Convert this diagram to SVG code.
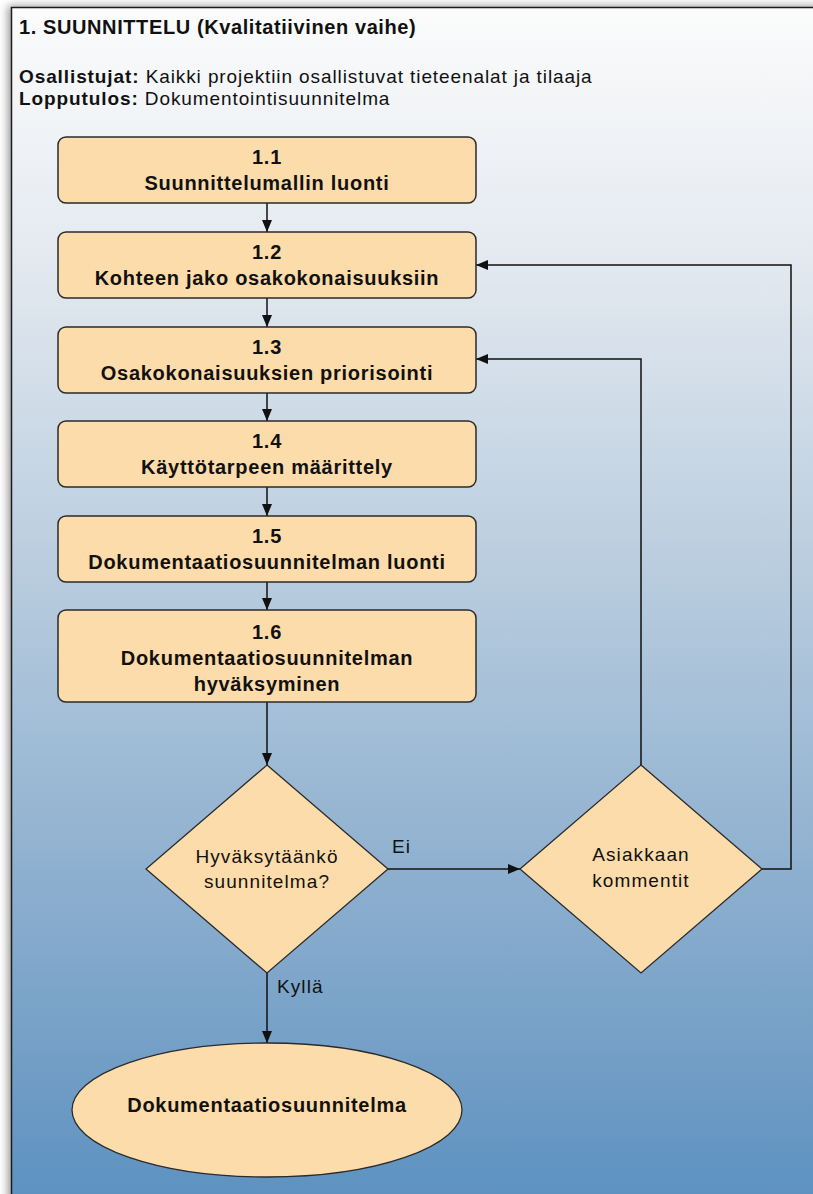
<svg xmlns="http://www.w3.org/2000/svg" width="813" height="1194" viewBox="0 0 813 1194">
  <defs>
    <linearGradient id="bg" x1="0" y1="0" x2="0" y2="1194" gradientUnits="userSpaceOnUse">
      <stop offset="0" stop-color="#fcfcfc"/>
      <stop offset="0.2" stop-color="#e6ebf1"/>
      <stop offset="0.5" stop-color="#b5cadd"/>
      <stop offset="0.8" stop-color="#82a8cb"/>
      <stop offset="1" stop-color="#5e92c0"/>
    </linearGradient>
    <filter id="shadow" x="-5%" y="-5%" width="110%" height="110%">
      <feGaussianBlur in="SourceAlpha" stdDeviation="4"/>
      <feOffset dx="-3" dy="-1" result="b"/>
      <feComponentTransfer><feFuncA type="linear" slope="0.4"/></feComponentTransfer>
      <feMerge><feMergeNode/><feMergeNode in="SourceGraphic"/></feMerge>
    </filter>
    <marker id="arrow" viewBox="0 0 12 12" markerWidth="12" markerHeight="12" refX="12" refY="6" orient="auto" markerUnits="userSpaceOnUse">
      <path d="M0,1 L12,6 L0,11 Z" fill="#111"/>
    </marker>
    <style>
      .frame { fill: url(#bg); stroke: #1a1a1a; stroke-width: 1.5; }
      .box { fill: #fddcab; stroke: #2a2a2a; stroke-width: 1.5; }
      .shape { fill: #fddcab; stroke: #2a2a2a; stroke-width: 1.3; }
      .edge { fill: none; stroke: #111; stroke-width: 1.5; marker-end: url(#arrow); }
      text { font-family: "Liberation Sans", Arial, sans-serif; fill: #111; font-size: 19px; }
      .title { font-size: 20px; font-weight: bold; letter-spacing: 0.6px; }
      .info { letter-spacing: 0.9px; }
      .lbl { font-size: 20px; font-weight: bold; text-anchor: middle; letter-spacing: 0.72px; }
      .q { text-anchor: middle; letter-spacing: 1.1px; }
      .edgelbl { letter-spacing: 1.1px; }
    </style>
  </defs>

  <!-- phase frame -->
  <rect class="frame" x="11.5" y="7.5" width="830" height="1210" filter="url(#shadow)"/>
  <text class="title" x="19" y="34">1. SUUNNITTELU (Kvalitatiivinen vaihe)</text>
  <text class="info" x="19" y="83"><tspan font-weight="bold">Osallistujat:</tspan> Kaikki projektiin osallistuvat tieteenalat ja tilaaja</text>
  <text class="info" x="19" y="105"><tspan font-weight="bold">Lopputulos:</tspan> Dokumentointisuunnitelma</text>

  <!-- connectors -->
  <g id="connectors">
    <path class="edge" d="M267,203 V232"/>
    <path class="edge" d="M267,298 V327"/>
    <path class="edge" d="M267,393 V421"/>
    <path class="edge" d="M267,487 V516"/>
    <path class="edge" d="M267,582 V610"/>
    <path class="edge" d="M267,702 V765"/>
    <path class="edge" d="M387,869 H520"/>
    <path class="edge" d="M267,973 V1043"/>
    <path class="edge" d="M641,765 V359 H476"/>
    <path class="edge" d="M762,869 H791 V265 H476"/>
    <text class="edgelbl" x="392" y="853">Ei</text>
    <text class="edgelbl" x="277" y="993">Kyllä</text>
  </g>

  <g id="n1_1">
    <rect class="box" x="58" y="137" width="418" height="66" rx="8"/>
    <text class="lbl" x="267" y="164">1.1</text>
    <text class="lbl" x="267" y="190">Suunnittelumallin luonti</text>
  </g>
  <g id="n1_2">
    <rect class="box" x="58" y="232" width="418" height="66" rx="8"/>
    <text class="lbl" x="267" y="259">1.2</text>
    <text class="lbl" x="267" y="285">Kohteen jako osakokonaisuuksiin</text>
  </g>
  <g id="n1_3">
    <rect class="box" x="58" y="327" width="418" height="66" rx="8"/>
    <text class="lbl" x="267" y="354">1.3</text>
    <text class="lbl" x="267" y="380">Osakokonaisuuksien priorisointi</text>
  </g>
  <g id="n1_4">
    <rect class="box" x="58" y="421" width="418" height="66" rx="8"/>
    <text class="lbl" x="267" y="448">1.4</text>
    <text class="lbl" x="267" y="474">Käyttötarpeen määrittely</text>
  </g>
  <g id="n1_5">
    <rect class="box" x="58" y="516" width="418" height="66" rx="8"/>
    <text class="lbl" x="267" y="543">1.5</text>
    <text class="lbl" x="267" y="569">Dokumentaatiosuunnitelman luonti</text>
  </g>
  <g id="n1_6">
    <rect class="box" x="58" y="610" width="418" height="92" rx="8"/>
    <text class="lbl" x="267" y="639">1.6</text>
    <text class="lbl" x="267" y="665">Dokumentaatiosuunnitelman</text>
    <text class="lbl" x="267" y="691">hyväksyminen</text>
  </g>
  <g id="decision">
    <path class="shape" d="M267,765 L388,869 L267,973 L146,869 Z"/>
    <text class="q" x="267" y="863">Hyväksytäänkö</text>
    <text class="q" x="267" y="888">suunnitelma?</text>
  </g>
  <g id="comments">
    <path class="shape" d="M641,765 L762,869 L641,973 L520,869 Z"/>
    <text class="q" x="641" y="861">Asiakkaan</text>
    <text class="q" x="641" y="887">kommentit</text>
  </g>
  <g id="result">
    <ellipse class="shape" cx="267" cy="1110" rx="195" ry="67"/>
    <text class="lbl" x="267" y="1112">Dokumentaatiosuunnitelma</text>
  </g>
</svg>
